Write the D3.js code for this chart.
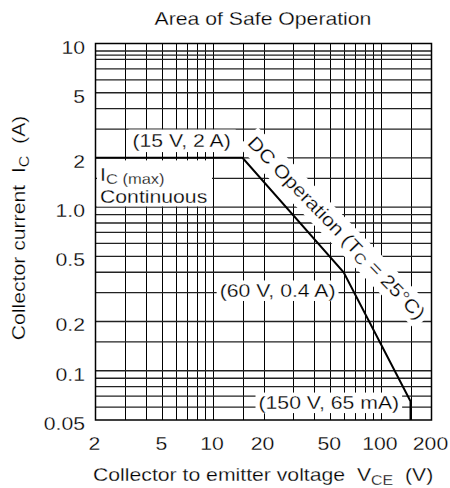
<!DOCTYPE html>
<html><head><meta charset="utf-8">
<script src="https://cdn.jsdelivr.net/npm/d3@7"></script>
<style>
body{margin:0;background:#fff}
text{font-family:"Liberation Sans",Arial,Helvetica,sans-serif;fill:#000;white-space:pre;stroke:#fff;stroke-width:0.25px}
</style>
</head><body>
<svg id="chart" width="450" height="488"></svg>
<script>
// ---- data ----
const title = "Area of Safe Operation";
const xTicks = [2, 5, 10, 20, 50, 100, 200];
const xTickLabels = ["2", "5", "10", "20", "50", "100", "200"];
const yTicks = [10, 5, 2, 1, 0.5, 0.2, 0.1, 0.05];
const yTickLabels = ["10", "5", "2", "1.0", "0.5", "0.2", "0.1", "0.05"];
const xGrid = [3, 4, 5, 6, 7, 8, 9, 10, 15, 20, 30, 40, 50, 60, 70, 80, 90, 100, 150];
const yGrid = [9, 8.5, 8, 7, 6, 5, 4, 3, 2, 1.5, 1, 0.9, 0.8, 0.7, 0.6, 0.5, 0.4, 0.3, 0.2, 0.15, 0.1, 0.09, 0.08, 0.07, 0.06];
const vce = [2, 15, 60, 150, 150];          // V
const ic  = [2, 2, 0.4, 0.065, 0.05];        // A
const cornerLabels = ["(15 V, 2 A)", "(60 V, 0.4 A)", "(150 V, 65 mA)"];

// ---- layout ----
const FS = 18.6, SX = 1.14;
const svg = d3.select("#chart");
const x = d3.scaleLog().domain([2, 200]).range([95.5, 431.5]);
const y = d3.scaleLog().domain([0.05, 10]).range([420, 43.5]);

// grid
const grid = svg.append("g");
grid.selectAll("line.v").data(xGrid).join("line")
  .attr("x1", d => Math.round(x(d)) + 0.5).attr("x2", d => Math.round(x(d)) + 0.5)
  .attr("y1", y(10)).attr("y2", y(0.05))
  .attr("stroke", "#000").attr("stroke-width", 1);
grid.selectAll("line.h").data(yGrid).join("line")
  .attr("x1", x(2)).attr("x2", x(200))
  .attr("y1", d => y(d)).attr("y2", d => y(d))
  .attr("stroke", "#222").attr("stroke-width", 1.3);

// helper for labels (font is wider than Arial -> horizontal stretch)
function label(parent, px, py, rot, anchor, build, pad) {
  const g = parent.append("g").attr("transform", `translate(${px},${py}) rotate(${rot}) scale(${SX},1)`);
  const r = g.append("rect").attr("fill", "#fff");
  const t = g.append("text").attr("font-size", FS).attr("text-anchor", anchor);
  build(t);
  if (pad) {
    const bb = t.node().getBBox();
    r.attr("x", bb.x - pad[0] / SX).attr("y", bb.y - pad[1])
     .attr("width", bb.width + (pad[0] + pad[2]) / SX).attr("height", bb.height + pad[1] + pad[3]);
  } else r.remove();
  return g;
}

// title
label(svg, 263, 25, 0, "middle", t => t.text(title));

// y tick labels
yTicks.forEach((v, i) => label(svg, 85, y(v) + 10, 0, "end", t => t.text(yTickLabels[i])));
// x tick labels
xTicks.forEach((v, i) => label(svg, x(v) - 1, 450, 0, "middle", t => t.text(xTickLabels[i])));

// axis titles
label(svg, 93, 481, 0, "start", t => {
  t.append("tspan").text("Collector to emitter voltage  V");
  t.append("tspan").attr("font-size", 14).attr("dy", 3.5).text("CE");
  t.append("tspan").attr("dy", -3.5).text("  (V)");
});
label(svg, 25, 228, -90, "middle", t => {
  t.append("tspan").text("Collector current  I");
  t.append("tspan").attr("font-size", 14).attr("dy", 3.5).text("C");
  t.append("tspan").attr("dy", -3.5).text("  (A)");
});

// annotation boxes
const ann = svg.append("g");
// I_C(max) continuous box
ann.append("rect").attr("x", x(2) + 1.5).attr("y", y(2) + 2.5)
  .attr("width", 115).attr("height", 46).attr("fill", "#fff");
label(ann, 100, 181, 0, "start", t => {
  t.append("tspan").text("I");
  t.append("tspan").attr("font-size", 14.5).attr("dy", 3).text("C (max)");
});
label(ann, 100, 203, 0, "start", t => t.text("Continuous"));

label(ann, x(15) - 110, y(2) - 10.5, 0, "start", t => t.text(cornerLabels[0]), [4, 1, 5, 1]);
label(ann, x(60) - 124, y(0.4) + 25, 0, "start", t => t.text(cornerLabels[1]), [3, 0, 3, 0]);
label(ann, x(150) - 152, y(0.065) + 8, 0, "start", t => t.text(cornerLabels[2]), [3, 0, 3, 0]);

// DC operation rotated label
label(ann, x(15) + 4, y(2) - 14, 46, "start", t => {
  t.append("tspan").text("DC Operation (T");
  t.append("tspan").attr("font-size", 14.5).attr("dy", 3).text("C");
  t.append("tspan").attr("dy", -3).text(" = 25°C)");
}, [4, 3, 4, 2]);

// SOA curve
const pts = vce.map((v, i) => [v, ic[i]]);
svg.append("path").datum(pts)
  .attr("d", d3.line().x(d => x(d[0])).y(d => y(d[1])))
  .attr("fill", "none").attr("stroke", "#000").attr("stroke-width", 2);

// frame
svg.append("rect").attr("x", x(2)).attr("y", y(10))
  .attr("width", x(200) - x(2)).attr("height", y(0.05) - y(10))
  .attr("fill", "none").attr("stroke", "#000").attr("stroke-width", 1.5);
</script>
</body></html>
